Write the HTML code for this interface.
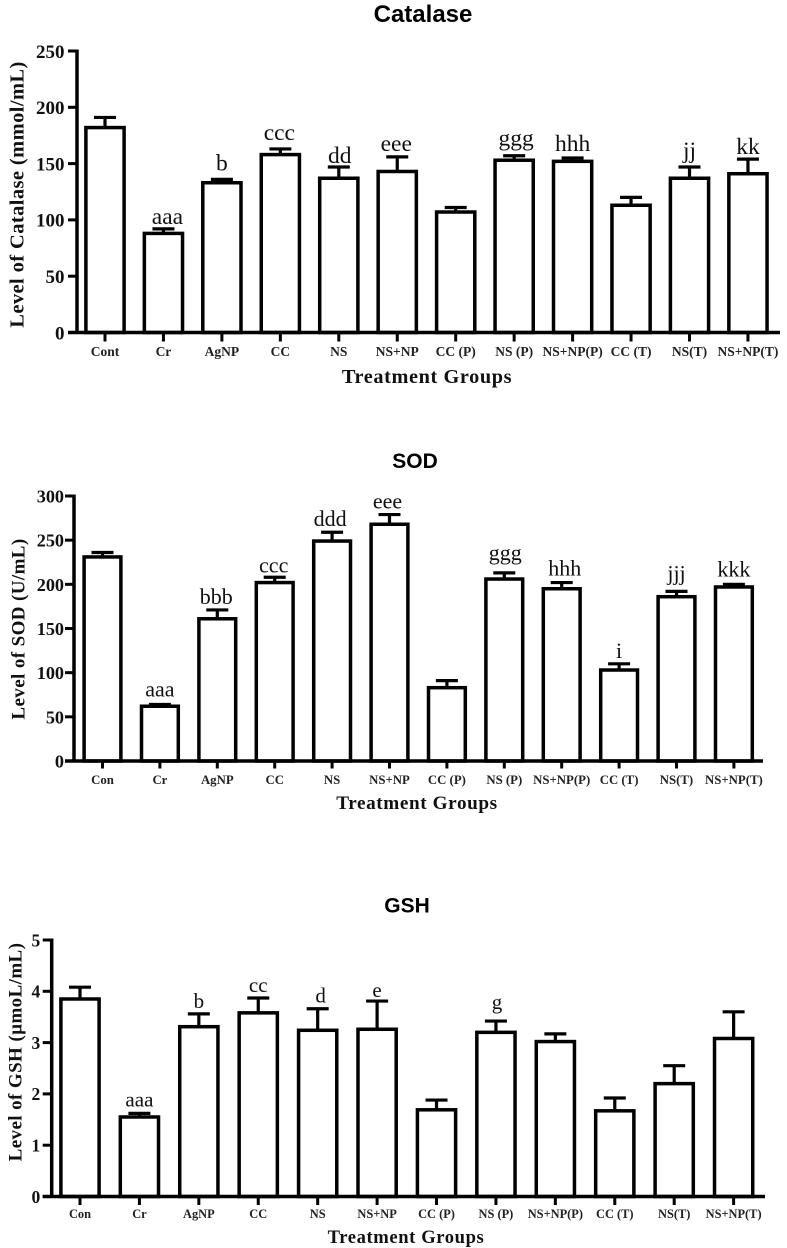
<!DOCTYPE html>
<html lang="en">
<head>
<meta charset="utf-8">
<title>Catalase, SOD and GSH levels by treatment group</title>
<style>
html,body{margin:0;padding:0;background:#fff;}
svg{display:block;filter:blur(0.3px);}
.serif{font-family:"Liberation Serif",serif;}
.sans{font-family:"Liberation Sans",sans-serif;}
</style>
</head>
<body>
<svg id="figure" xmlns="http://www.w3.org/2000/svg" width="787" height="1248" viewBox="0 0 787 1248"></svg>
<script>
// Catalase chart data
const catalaseCategories = ['Cont','Cr','AgNP','CC','NS','NS+NP','CC (P)','NS (P)','NS+NP(P)','CC (T)','NS(T)','NS+NP(T)'];
const catalaseValues = [182,88,133,158,137,143,107,153,152,113,137,141];
const catalaseErrors = [9,4,3,5,10,13,4,4,3,7,10,13];
const catalaseLetters = ['','aaa','b','ccc','dd','eee','','ggg','hhh','','jj','kk'];
const catalaseTicks = [0,50,100,150,200,250];

// SOD chart data
const sodCategories = ['Con','Cr','AgNP','CC','NS','NS+NP','CC (P)','NS (P)','NS+NP(P)','CC (T)','NS(T)','NS+NP(T)'];
const sodValues = [231,62,161,202,249,268,83,206,195,103,186,197];
const sodErrors = [5,2,10,6,10,11,8,7,7,7,6,3];
const sodLetters = ['','aaa','bbb','ccc','ddd','eee','','ggg','hhh','i','jjj','kkk'];
const sodTicks = [0,50,100,150,200,250,300];

// GSH chart data
const gshCategories = ['Con','Cr','AgNP','CC','NS','NS+NP','CC (P)','NS (P)','NS+NP(P)','CC (T)','NS(T)','NS+NP(T)'];
const gshValues = [3.85,1.55,3.31,3.58,3.24,3.26,1.69,3.2,3.02,1.67,2.2,3.08];
const gshErrors = [0.23,0.07,0.25,0.29,0.42,0.55,0.19,0.22,0.15,0.25,0.35,0.52];
const gshLetters = ['','aaa','b','cc','d','e','','g','','','',''];
const gshTicks = [0,1,2,3,4,5];

const NS = 'http://www.w3.org/2000/svg';
const svg = document.getElementById('figure');

function make(parent, tag, attrs, text) {
  const el = document.createElementNS(NS, tag);
  for (const k in attrs) el.setAttribute(k, attrs[k]);
  if (text !== undefined) el.textContent = text;
  parent.appendChild(el);
  return el;
}

function line(parent, x1, y1, x2, y2, w) {
  return make(parent, 'line', {x1:x1, y1:y1, x2:x2, y2:y2, stroke:'#000', 'stroke-width':w});
}

function drawChart(c) {
  const g = make(svg, 'g', {});
  
  

  const yScale = v => c.y0 - (v - c.ticks[0]) / (c.ticks[c.ticks.length-1] - c.ticks[0]) * (c.y0 - c.yTop);
  const xScale = i => c.x0 + i * c.step;

  const title = make(g, 'text', {x:c.titleX, y:c.titleY, 'text-anchor':'middle', 'font-size':c.titleSize, 'font-weight':'bold', class:'sans'}, c.title);
  
  

  c.values.forEach((v, i) => {
    const x = xScale(i);
    const top = yScale(v);
    const errTop = yScale(v + c.errors[i]);

    const stem = line(g, x, top, x, errTop, 3.2);
    
    
    const cap = line(g, x - 11, errTop, x + 11, errTop, 3.2);
    
    

    const bar = make(g, 'rect', {x:x - c.barW/2, y:top, width:c.barW, height:c.y0 - top, fill:'#fff', stroke:'#000', 'stroke-width':3.5});
    
    

    if (c.letters[i]) {
      const sig = make(g, 'text', {x:x + c.letterShift[i], y:errTop - c.letterLift[i], 'text-anchor':'middle', 'font-size':c.letterSize, fill:'#111', class:'serif'}, c.letters[i]);
      
      
    }

    const tick = line(g, x, c.y0, x, c.y0 + c.xTickLen, 3);
    
    

    const lab = make(g, 'text', {x:x, y:c.tickLabelY, 'text-anchor':'middle', 'font-size':c.xLabelSize, 'font-weight':'bold', fill:'#222', class:'serif'}, c.categories[i]);
    
    
  });

  c.ticks.forEach(t => {
    const y = yScale(t);
    const tick = line(g, c.axisX - 9, y, c.axisX, y, 3);
    
    
    const lab = make(g, 'text', {x:c.axisX - c.yLabelGap, y:y + c.yLabelSize * 0.36, 'text-anchor':'end', 'font-size':c.yLabelSize, 'font-weight':'bold', fill:'#111', class:'serif'}, String(t));
    
    
  });

  const yAxis = line(g, c.axisX, c.yTop - 1.5, c.axisX, c.y0 + 1.5, 3.5);
  
  
  const xAxis = line(g, c.axisX - 9, c.y0, c.xEnd, c.y0, 3.5);
  
  

  const xTitle = make(g, 'text', {x:c.xTitleX, y:c.xTitleY, 'text-anchor':'middle', 'font-size':c.axisTitleSize, 'font-weight':'bold', 'letter-spacing':'0.6', fill:'#111', class:'serif'}, 'Treatment Groups');
  
  

  const yTitle = make(g, 'text', {x:0, y:0, transform:'translate(' + c.yTitleX + ' ' + c.yTitleY + ') rotate(-90)', 'text-anchor':'middle', 'font-size':c.yTitleSize, 'font-weight':'bold', 'letter-spacing':'0.4', fill:'#111', class:'serif'}, c.yTitle);
  
  
}

drawChart({
  id:'catalase', title:'Catalase', yTitle:'Level of Catalase (mmol/mL)',
  categories:catalaseCategories, values:catalaseValues, errors:catalaseErrors, letters:catalaseLetters, ticks:catalaseTicks,
  axisX:77, xEnd:780, y0:332.5, yTop:51, x0:105, step:58.45, barW:38.2, xTickLen:9,
  titleX:423, titleY:22, titleSize:24,
  tickLabelY:356, xLabelSize:13.5, yLabelSize:19, yLabelGap:12.5, letterSize:23.5,
  letterLift:[0,5,9,9,4,6,0,10,7,0,9,5], letterShift:[0,4,0,-1,1,-1,0,2,0,0,0,0],
  xTitleX:427, xTitleY:383, axisTitleSize:20.3,
  yTitleX:23.5, yTitleY:194.5, yTitleSize:20.5
});

drawChart({
  id:'sod', title:'SOD', yTitle:'Level of SOD (U/mL)',
  categories:sodCategories, values:sodValues, errors:sodErrors, letters:sodLetters, ticks:sodTicks,
  axisX:74, xEnd:763, y0:761, yTop:496, x0:102.5, step:57.4, barW:36.8, xTickLen:7.5,
  titleX:415, titleY:468, titleSize:21,
  tickLabelY:784, xLabelSize:12.8, yLabelSize:18.2, yLabelGap:10, letterSize:22,
  letterLift:[0,8,6,5,6,6,0,13,7,6,11,8], letterShift:[0,0,-1,-1,-2,-2,0,1,3,0,0,0],
  xTitleX:417, xTitleY:809, axisTitleSize:19.2,
  yTitleX:24.5, yTitleY:629, yTitleSize:19
});

drawChart({
  id:'gsh', title:'GSH', yTitle:'Level of GSH (\u00b5moL/mL)',
  categories:gshCategories, values:gshValues, errors:gshErrors, letters:gshLetters, ticks:gshTicks,
  axisX:51.7, xEnd:765, y0:1196.5, yTop:940, x0:80, step:59.42, barW:38.2, xTickLen:8.5,
  titleX:407, titleY:912.5, titleSize:21,
  tickLabelY:1218, xLabelSize:12.4, yLabelSize:17.5, yLabelGap:11.5, letterSize:21,
  letterLift:[0,7,6,6,6,4,0,12,0,0,0,0], letterShift:[0,0,0,0,3,0,0,1,0,0,0,0],
  xTitleX:406, xTitleY:1243, axisTitleSize:18.6,
  yTitleX:21.5, yTitleY:1052, yTitleSize:19
});
</script>
</body>
</html>
